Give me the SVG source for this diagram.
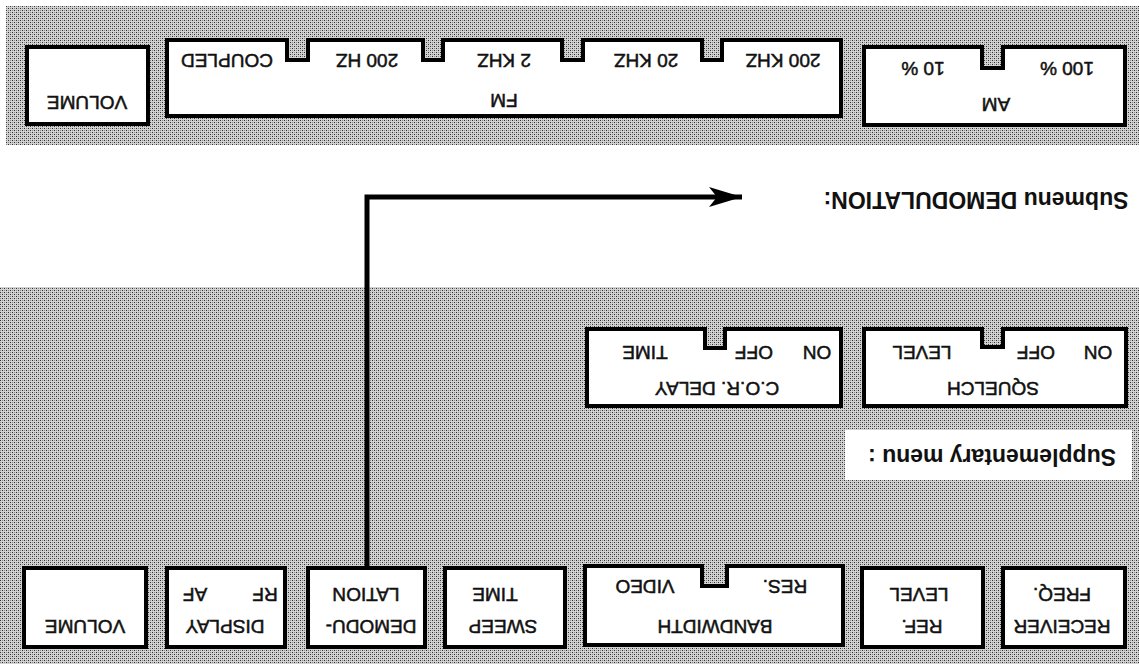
<svg xmlns="http://www.w3.org/2000/svg" width="1139" height="664" viewBox="0 0 1139 664">
<defs>
<pattern id="halftone" width="4" height="4" patternUnits="userSpaceOnUse">
<rect width="4" height="4" fill="#d2d2d2"/>
<rect x="0" y="0" width="1" height="1" fill="#2e2e2e"/>
<rect x="2" y="2" width="1" height="1" fill="#2e2e2e"/>
<rect x="2" y="0" width="1" height="1" fill="#8a8a8a"/>
<rect x="0" y="2" width="1" height="1" fill="#8a8a8a"/>
</pattern>
<marker id="arr" markerUnits="userSpaceOnUse" markerWidth="36" markerHeight="24" refX="33" refY="12" orient="auto">
<path d="M0,2 L33,12 L0,22 L8,12 Z" fill="#000"/>
</marker>
<style>
.band{fill:url(#halftone)}
.box{fill:#fff;stroke:#000;stroke-width:4;stroke-linejoin:miter}
.t{font-family:"Liberation Sans",Arial,sans-serif;font-size:19px;font-weight:normal;fill:#111;stroke:#111;stroke-width:0.5;text-anchor:middle;dominant-baseline:central}
.h{font-family:"Liberation Sans",Arial,sans-serif;font-size:23px;font-weight:bold;fill:#111;text-anchor:middle;dominant-baseline:central}
.wire{fill:none;stroke:#000;stroke-width:5}
</style>
</defs>
<rect width="1139" height="664" fill="#fff"/>
<rect class="band" x="6" y="6" width="1133" height="139"/>
<rect class="band" x="0" y="287" width="1139" height="377"/>
<g id="label-supplementary">
<rect x="845" y="430" width="287" height="50" fill="#fff"/>
<text class="h" x="992" y="457" transform="rotate(180 992 457)">Supplementary menu :</text>
</g>
<g id="label-submenu">
<text class="h" x="976" y="200" transform="rotate(180 976 200)">Submenu DEMODULATION:</text>
</g>

<g id="connectors">
<path class="wire" d="M367,568 V197 H742" marker-end="url(#arr)"/>
</g>

<g id="top-volume">
<rect class="box" x="27" y="47" width="121" height="77"/>
<text class="t" x="87" y="102" transform="rotate(180 87 102)">VOLUME</text>
</g>
<g id="fm">
<path class="box" d="M167,40 H287 V60 H308 V40 H423 V60 H443 V40 H562 V60 H583 V40 H702 V60 H722 V40 H841 V116 H167 Z"/>
<text class="t" x="227" y="60" transform="rotate(180 227 60)">COUPLED</text>
<text class="t" x="367" y="60" transform="rotate(180 367 60)">200 HZ</text>
<text class="t" x="504" y="60" transform="rotate(180 504 60)">2 KHZ</text>
<text class="t" x="646" y="60" transform="rotate(180 646 60)">20 KHZ</text>
<text class="t" x="783" y="60" transform="rotate(180 783 60)">200 KHZ</text>
<text class="t" x="504" y="100" transform="rotate(180 504 100)">FM</text>
</g>
<g id="am">
<path class="box" d="M864,47 H982 V68 H1003 V47 H1125 V125 H864 Z"/>
<text class="t" x="923" y="68" transform="rotate(180 923 68)">10 %</text>
<text class="t" x="1067" y="68" transform="rotate(180 1067 68)">100 %</text>
<text class="t" x="996" y="104" transform="rotate(180 996 104)">AM</text>
</g>

<g id="cor-delay">
<path class="box" d="M587,329 H705 V348 H725 V329 H841 V406 H587 Z"/>
<text class="t" x="645" y="352" transform="rotate(180 645 352)">TIME</text>
<text class="t" x="754" y="352" transform="rotate(180 754 352)">OFF</text>
<text class="t" x="817" y="352" transform="rotate(180 817 352)">ON</text>
<text class="t" x="717" y="388" transform="rotate(180 717 388)">C.O.R. DELAY</text>
</g>
<g id="squelch">
<path class="box" d="M864,329 H982 V347 H1003 V329 H1126 V406 H864 Z"/>
<text class="t" x="922" y="352" transform="rotate(180 922 352)">LEVEL</text>
<text class="t" x="1036" y="352" transform="rotate(180 1036 352)">OFF</text>
<text class="t" x="1098" y="352" transform="rotate(180 1098 352)">ON</text>
<text class="t" x="993" y="388" transform="rotate(180 993 388)">SQUELCH</text>
</g>

<g id="bottom-volume">
<rect class="box" x="24" y="568" width="122" height="79"/>
<text class="t" x="85" y="626" transform="rotate(180 85 626)">VOLUME</text>
</g>
<g id="display">
<rect class="box" x="167" y="568" width="118" height="79"/>
<text class="t" x="225" y="626" transform="rotate(180 225 626)">DISPLAY</text>
<text class="t" x="265" y="594" transform="rotate(180 265 594)">RF</text>
<text class="t" x="195" y="594" transform="rotate(180 195 594)">AF</text>
</g>
<g id="demodulation">
<rect class="box" x="308" y="568" width="117" height="79"/>
<text class="t" x="371" y="626" transform="rotate(180 371 626)">DEMODU-</text>
<text class="t" x="366" y="594" transform="rotate(180 366 594)">LATION</text>
</g>
<g id="sweep-time">
<rect class="box" x="445" y="568" width="120" height="79"/>
<text class="t" x="503" y="626" transform="rotate(180 503 626)">SWEEP</text>
<text class="t" x="495" y="594" transform="rotate(180 495 594)">TIME</text>
</g>
<g id="bandwidth">
<path class="box" d="M585,566 H702 V586 H727 V566 H843 V645 H585 Z"/>
<text class="t" x="645" y="586" transform="rotate(180 645 586)">VIDEO</text>
<text class="t" x="785" y="586" transform="rotate(180 785 586)">RES.</text>
<text class="t" x="715" y="626" transform="rotate(180 715 626)">BANDWIDTH</text>
</g>
<g id="ref-level">
<rect class="box" x="862" y="568" width="121" height="79"/>
<text class="t" x="922" y="626" transform="rotate(180 922 626)">REF.</text>
<text class="t" x="919" y="594" transform="rotate(180 919 594)">LEVEL</text>
</g>
<g id="receiver-freq">
<rect class="box" x="1003" y="568" width="122" height="79"/>
<text class="t" x="1062" y="626" transform="rotate(180 1062 626)">RECEIVER</text>
<text class="t" x="1062" y="594" transform="rotate(180 1062 594)">FREQ.</text>
</g>
</svg>
